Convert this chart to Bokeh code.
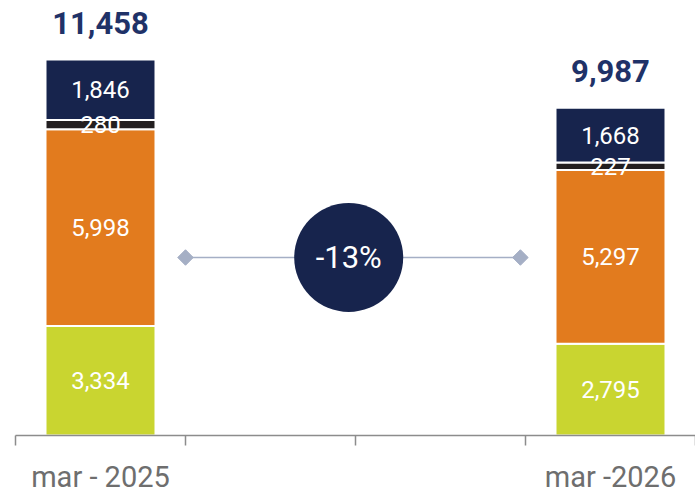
import math
from bokeh.plotting import figure
from bokeh.models import ColumnDataSource, LinearAxis, FixedTicker, Range1d
from bokeh.core.properties import value
from bokeh.embed import file_html
from bokeh.resources import INLINE

# ---- data ----
periods = ["mar - 2025", "mar -2026"]
period_pos = [0.5, 3.5]
green_vals = [3334, 2795]
orange_vals = [5998, 5297]
black_vals = [280, 227]
navy_vals = [1846, 1668]
totals = [11458, 9987]
change_label = ["-13%"]
slot_bounds = [0, 1, 2, 3, 4]

connector_x = [1.0, 2.97]
connector_y = [5424, 5424]
bubble_x = [1.96]

NAVY = "#17244D"
ORANGE = "#E27B1E"
GREEN = "#C9D530"
BLACK = "#231F20"
TOTAL_C = "#1F3268"
GRAY = "#8C8C8C"

p = figure(frame_width=680, frame_height=435, output_backend="svg",
           toolbar_location=None, x_range=Range1d(0, 4), y_range=Range1d(0, 13256),
           min_border_left=15, min_border_right=0, min_border_top=0, min_border_bottom=0,
           x_axis_location=None, y_axis_location=None)
p.outline_line_color = None
p.grid.visible = False
p.background_fill_color = "white"
p.border_fill_color = "white"

src = ColumnDataSource(dict(x=period_pos, green=green_vals, orange=orange_vals,
                            black=black_vals, navy=navy_vals))
p.vbar_stack(["green", "orange", "black", "navy"], x="x", width=0.647,
             color=[GREEN, ORANGE, BLACK, NAVY], line_color="white", line_width=2,
             source=src)

# segment labels
lx, ly, lt = [], [], []
for i, x in enumerate(period_pos):
    base = 0
    for arr in (green_vals, orange_vals, black_vals, navy_vals):
        v = arr[i]
        lx.append(x)
        ly.append(base + v / 2)
        lt.append(f"{v:,}")
        base += v
p.text(x=lx, y=ly, text=lt, text_color="white", text_font=value("Roboto"),
       text_font_size="24px", text_align="center", text_baseline="middle")

# totals
p.text(x=period_pos, y=totals, text=[f"{t:,}" for t in totals], text_color=TOTAL_C,
       text_font=value("Roboto"), text_font_size="31px", text_font_style="bold",
       text_align="center", text_baseline="middle", y_offset=-37)

# connector
p.line(x=connector_x, y=connector_y, line_color="#A5AFC5", line_width=1.5)
p.scatter(x=connector_x, y=connector_y, marker="square", angle=math.pi / 4, size=11,
          fill_color="#A5AFC5", line_color="#A5AFC5")
p.scatter(x=bubble_x, y=[connector_y[0]], marker="circle", size=109,
          fill_color=NAVY, line_color=None)
p.text(x=bubble_x, y=[connector_y[0]], text=change_label, text_color="white",
       text_font=value("Roboto"), text_font_size="31px", text_align="center",
       text_baseline="middle")

# tick axis
ax1 = LinearAxis(ticker=FixedTicker(ticks=slot_bounds))
ax1.axis_line_color = GRAY
ax1.axis_line_width = 1.5
ax1.major_tick_line_color = GRAY
ax1.major_tick_line_width = 1.5
ax1.major_tick_in = 0
ax1.major_tick_out = 10
ax1.minor_tick_line_color = None
ax1.major_label_overrides = {b: "" for b in slot_bounds}
ax1.major_label_text_font_size = "1px"
ax1.major_label_standoff = 0
p.add_layout(ax1, "below")

# label axis
ax2 = LinearAxis(ticker=FixedTicker(ticks=period_pos))
ax2.axis_line_color = None
ax2.major_tick_line_color = None
ax2.minor_tick_line_color = None
ax2.major_label_overrides = {pp: lab for pp, lab in zip(period_pos, periods)}
ax2.major_label_text_font = "Roboto"
ax2.major_label_text_font_size = "29px"
ax2.major_label_text_color = "#6E6E6E"
ax2.major_label_standoff = 8
p.add_layout(ax2, "below")

open("out.html", "w").write(file_html(p, INLINE))
